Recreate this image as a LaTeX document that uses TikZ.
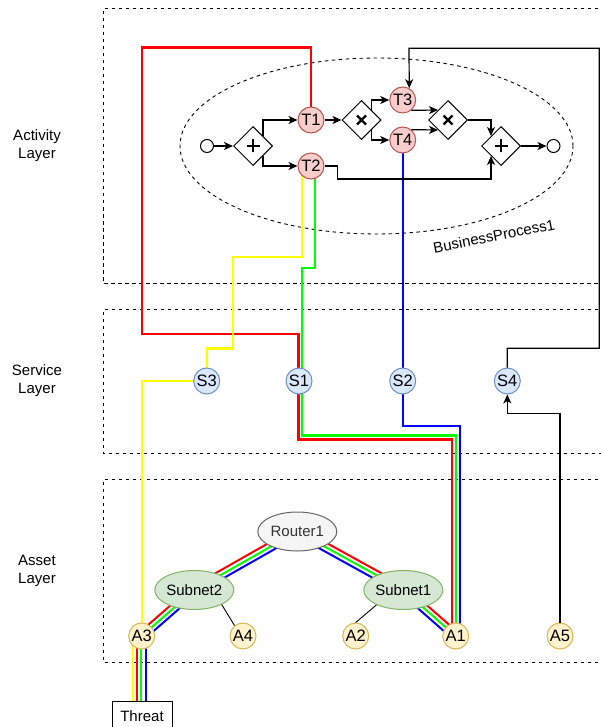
\documentclass[tikz,border=0pt]{standalone}
\usepackage{fontspec}
\setmainfont{Liberation Sans}
\usetikzlibrary{shapes.geometric,arrows.meta,backgrounds,calc}

\definecolor{taskfill}{HTML}{F8CECC}
\definecolor{taskline}{HTML}{B85450}
\definecolor{svcfill}{HTML}{DAE8FC}
\definecolor{svcline}{HTML}{6C8EBF}
\definecolor{assetfill}{HTML}{FFF2CC}
\definecolor{assetline}{HTML}{D6B656}
\definecolor{netfill}{HTML}{D5E8D4}
\definecolor{netline}{HTML}{82B366}
\definecolor{routerfill}{HTML}{F5F5F5}
\definecolor{routerline}{HTML}{666666}
\definecolor{routertext}{HTML}{333333}
\definecolor{pathred}{HTML}{FF0000}
\definecolor{pathgreen}{HTML}{00FF00}
\definecolor{pathblue}{HTML}{0000FF}
\definecolor{pathyellow}{HTML}{FFFF00}

\tikzset{
  flow/.style={draw=black, line width=1.2pt, -{Stealth[length=9pt,width=8pt,inset=2.5pt]}},
  heavyflow/.style={flow, line width=2pt},
  plainlink/.style={draw=black, line width=0.9pt},
  circlabel/.style={font=\fontsize{16.5}{18}\selectfont},
  task/.style={circle, circlabel, draw=taskline, fill=taskfill, line width=1pt, minimum size=26pt, inner sep=0pt},
  svc/.style={circle, circlabel, draw=svcline, fill=svcfill, line width=1pt, minimum size=26pt, inner sep=0pt},
  asset/.style={circle, circlabel, draw=assetline, fill=assetfill, line width=1pt, minimum size=26pt, inner sep=0pt},
  event/.style={circle, draw=black, fill=white, line width=1pt, minimum size=13pt, inner sep=0pt},
  gw/.style={diamond, draw=black, fill=white, line width=1pt, minimum width=39pt, minimum height=39pt, inner sep=0pt},
  gwand/.style={gw, path picture={
      \draw[line width=2.4pt]
        ([xshift=-6.5pt]path picture bounding box.center) -- ([xshift=6.5pt]path picture bounding box.center)
        ([yshift=-6.5pt]path picture bounding box.center) -- ([yshift=6.5pt]path picture bounding box.center);}},
  gwxor/.style={gw, path picture={
      \draw[line width=2.4pt]
        ([shift={(-4.5pt,-4.5pt)}]path picture bounding box.center) -- ([shift={(4.5pt,4.5pt)}]path picture bounding box.center)
        ([shift={(-4.5pt,4.5pt)}]path picture bounding box.center) -- ([shift={(4.5pt,-4.5pt)}]path picture bounding box.center);}},
  subnet/.style={ellipse, draw=netline, fill=netfill, line width=1pt, minimum width=79pt, minimum height=39pt, inner sep=0pt},
  router/.style={ellipse, draw=routerline, fill=routerfill, text=routertext, line width=1pt, minimum width=79pt, minimum height=39pt, inner sep=0pt},
  threatbox/.style={rectangle, draw=black, fill=white, line width=1pt, minimum width=60pt, minimum height=30pt, inner sep=0pt},
  layerbox/.style={draw=black, line width=1pt, dash pattern=on 3.5pt off 3.5pt},
  layerlabel/.style={align=center, inner sep=0pt},
  single/.style={line width=2.4pt},
  strand/.style={line width=2pt},
}

\begin{document}
\begin{tikzpicture}[x=1pt, y=-1pt, font=\fontsize{15}{18}\selectfont]
\useasboundingbox (0,0) rectangle (601,727);

% layer captions
\node[layerlabel] (actlbl) at (37,146) {Activity\\Layer};
\node[layerlabel] (svclbl) at (37,381) {Service\\Layer};
\node[layerlabel] (astlbl) at (37,571) {Asset\\Layer};

% business process
\node[event] (start) at (207,146) {};
\node[gwand] (g1) at (253,146) {};
\node[task] (t1) at (311,120) {T1};
\node[task] (t2) at (311,166) {T2};
\node[gwxor] (x1) at (361.5,120) {};
\node[task] (t3) at (402.7,100) {T3};
\node[task] (t4) at (402.7,140) {T4};
\node[gwxor] (x2) at (448,120) {};
\node[gwand] (g2) at (501,146) {};
\node[event] (finish) at (553.5,146) {};
\node[rotate=11] (bplbl) at (494,236) {BusinessProcess1};

% services
\node[svc] (s3) at (206.7,381) {S3};
\node[svc] (s1) at (299,381) {S1};
\node[svc] (s2) at (402.7,381) {S2};
\node[svc] (s4) at (507.3,381) {S4};

% assets and network
\node[router] (router) at (297.3,531.5) {Router1};
\node[subnet] (sub2) at (194.3,590) {Subnet2};
\node[subnet] (sub1) at (403.3,590) {Subnet1};
\node[asset] (a3) at (141.7,636) {A3};
\node[asset] (a4) at (243,636) {A4};
\node[asset] (a2) at (355.7,636) {A2};
\node[asset] (a1) at (455.7,636) {A1};
\node[asset] (a5) at (560,636) {A5};
\node[threatbox] (threat) at (142,716) {Threat};

\begin{pgfonlayer}{background}
  % layer frames (open to the right)
  \draw[layerbox] (640,9) -- (103,9) -- (103,283) -- (640,283);
  \draw[layerbox] (640,309.5) -- (103,309.5) -- (103,453) -- (640,453);
  \draw[layerbox] (640,479.5) -- (103,479.5) -- (103,662) -- (640,662);
  % process boundary
  \draw[line width=0.9pt, dash pattern=on 3.5pt off 3.5pt] (376.5,146) ellipse [x radius=196.5pt, y radius=88pt];

  % attack paths through the layers
  \draw[pathred, single] (t1.center) |- (141.7,47.5) |- (298.3,334) -- (298.3,439.3) -| ([xshift=-3.6pt]a1.center);
  \draw[pathgreen, single] ([xshift=4pt]t2.center) |- (301.7,268) -- (301.7,435.3) -| ([xshift=0.2pt]a1.center);
  \draw[pathblue, single] (t4.center) |- (459.8,426) -- ([xshift=4.1pt]a1.center);
  \draw[pathyellow, single] ([xshift=-9.3pt]t2.center) |- (232.7,256.7) |- (206.7,348.3) -- (s3.center);
  \draw[pathyellow, single] (s3.center) -| (a3.center);

  % paths across the network
  \draw[pathred, strand]   ([shift={(-2pt,3.6pt)}]router.center) -- ([shift={(-2pt,3.6pt)}]sub2.center);
  \draw[pathgreen, strand] (router.center) -- (sub2.center);
  \draw[pathblue, strand]  ([shift={(2pt,-3.6pt)}]router.center) -- ([shift={(2pt,-3.6pt)}]sub2.center);

  \draw[pathred, strand]   ([shift={(2pt,3.6pt)}]router.center) -- ([shift={(2pt,3.6pt)}]sub1.center);
  \draw[pathgreen, strand] (router.center) -- (sub1.center);
  \draw[pathblue, strand]  ([shift={(-2pt,-3.6pt)}]router.center) -- ([shift={(-2pt,-3.6pt)}]sub1.center);

  \draw[pathred, strand]   ([shift={(2.8pt,3pt)}]sub1.center) -- ([shift={(2.8pt,3pt)}]a1.center);
  \draw[pathgreen, strand] (sub1.center) -- (a1.center);
  \draw[pathblue, strand]  ([shift={(-2.8pt,-3pt)}]sub1.center) -- ([shift={(-2.8pt,-3pt)}]a1.center);

  \draw[pathred, strand]   ([shift={(-2.8pt,3pt)}]sub2.center) -- ([shift={(-2.8pt,3pt)}]a3.center);
  \draw[pathgreen, strand] (sub2.center) -- (a3.center);
  \draw[pathblue, strand]  ([shift={(2.8pt,-3pt)}]sub2.center) -- ([shift={(2.8pt,-3pt)}]a3.center);

  \draw[pathyellow, strand] ([xshift=-9.2pt]a3.center) -- ([xshift=-9.2pt]a3.center |- threat.center);
  \draw[pathred, strand]    ([xshift=-4.8pt]a3.center) -- ([xshift=-4.8pt]a3.center |- threat.center);
  \draw[pathgreen, strand]  ([xshift=-0.4pt]a3.center) -- ([xshift=-0.4pt]a3.center |- threat.center);
  \draw[pathblue, strand]   ([xshift=4.2pt]a3.center) -- ([xshift=4.2pt]a3.center |- threat.center);
\end{pgfonlayer}

% sequence flow
\draw[heavyflow] (start) -- (g1);
\draw[flow] (g1.north east) |- (t1);
\draw[flow] (g1.south east) |- (t2);
\draw[heavyflow] (t1) -- (x1);
\draw[flow] (x1.north east) |- (t3);
\draw[flow] (x1.south east) |- (t4);
\draw[flow] (t3.-50) -- (x2.north west);
\draw[flow] (t4.50) -- (x2.south west);
\draw[flow] (x2.east) -| (g2.north west);
\draw[flow] (t2.east) -- ++(13,0) -- ++(0,13) -| (g2.south west);
\draw[heavyflow] (g2) -- (finish);

% service and asset links
\draw[flow] (s4) |- (599.3,348.3) |- (409,48.3) -- (t3.61);
\draw[flow] (a5) |- (507.3,413.3) -- (s4);
\draw[plainlink] (sub2.-28) -- (a4.129);
\draw[plainlink] (sub1.209) -- (a2.north);
\end{tikzpicture}
\end{document}
